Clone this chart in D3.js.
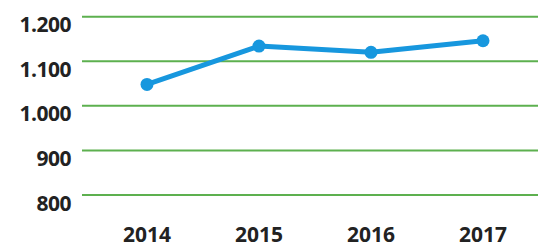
<!DOCTYPE html>
<html>
<head>
<meta charset="utf-8">
<script src="https://cdn.jsdelivr.net/npm/d3@7"></script>
<style>
  body { margin: 0; background: #fff; }
  svg { display: block; }
  text { font-family: "Open Sans", sans-serif; font-weight: 700; fill: #222; }
</style>
</head>
<body>
<svg width="538" height="247"></svg>
<script>
const years = ["2014", "2015", "2016", "2017"];
const values = [1048, 1134, 1120, 1146];
const yTicks = [800, 900, 1000, 1100, 1200];
const yTickLabels = ["800", "900", "1.000", "1.100", "1.200"];

const svg = d3.select("svg");

const x = d3.scalePoint().domain(years).range([147, 483]);
const y = d3.scaleLinear().domain([800, 1200]).range([195, 16.7]);

// grid lines
svg.append("g")
    .selectAll("line")
    .data(yTicks)
    .enter()
    .append("line")
    .attr("x1", 82)
    .attr("x2", 538)
    .attr("y1", (d) => y(d))
    .attr("y2", (d) => y(d))
    .attr("stroke", "#5db04f")
    .attr("stroke-width", 2);

// y labels
svg.append("g")
    .selectAll("text")
    .data(yTicks)
    .enter()
    .append("text")
    .attr("x", 71)
    .attr("y", (d) => y(d) + 15.5)
    .attr("text-anchor", "end")
    .attr("font-size", 21)
    .attr("letter-spacing", -0.5)
    .text((d, i) => yTickLabels[i]);

// x labels
svg.append("g")
    .selectAll("text")
    .data(years)
    .enter()
    .append("text")
    .attr("x", (d) => x(d))
    .attr("y", 241.5)
    .attr("text-anchor", "middle")
    .attr("font-size", 21)
    .text((d) => d);

const pts = years.map((yr, i) => ({ yr: yr, v: values[i] }));

svg.append("path")
    .datum(pts)
    .attr("fill", "none")
    .attr("stroke", "#1797de")
    .attr("stroke-width", 5)
    .attr("stroke-linejoin", "round")
    .attr("d", d3.line().x((d) => x(d.yr)).y((d) => y(d.v)));

svg.append("g")
    .selectAll("circle")
    .data(pts)
    .enter()
    .append("circle")
    .attr("cx", (d) => x(d.yr))
    .attr("cy", (d) => y(d.v))
    .attr("r", 6.5)
    .attr("fill", "#1797de");
</script>
</body>
</html>
